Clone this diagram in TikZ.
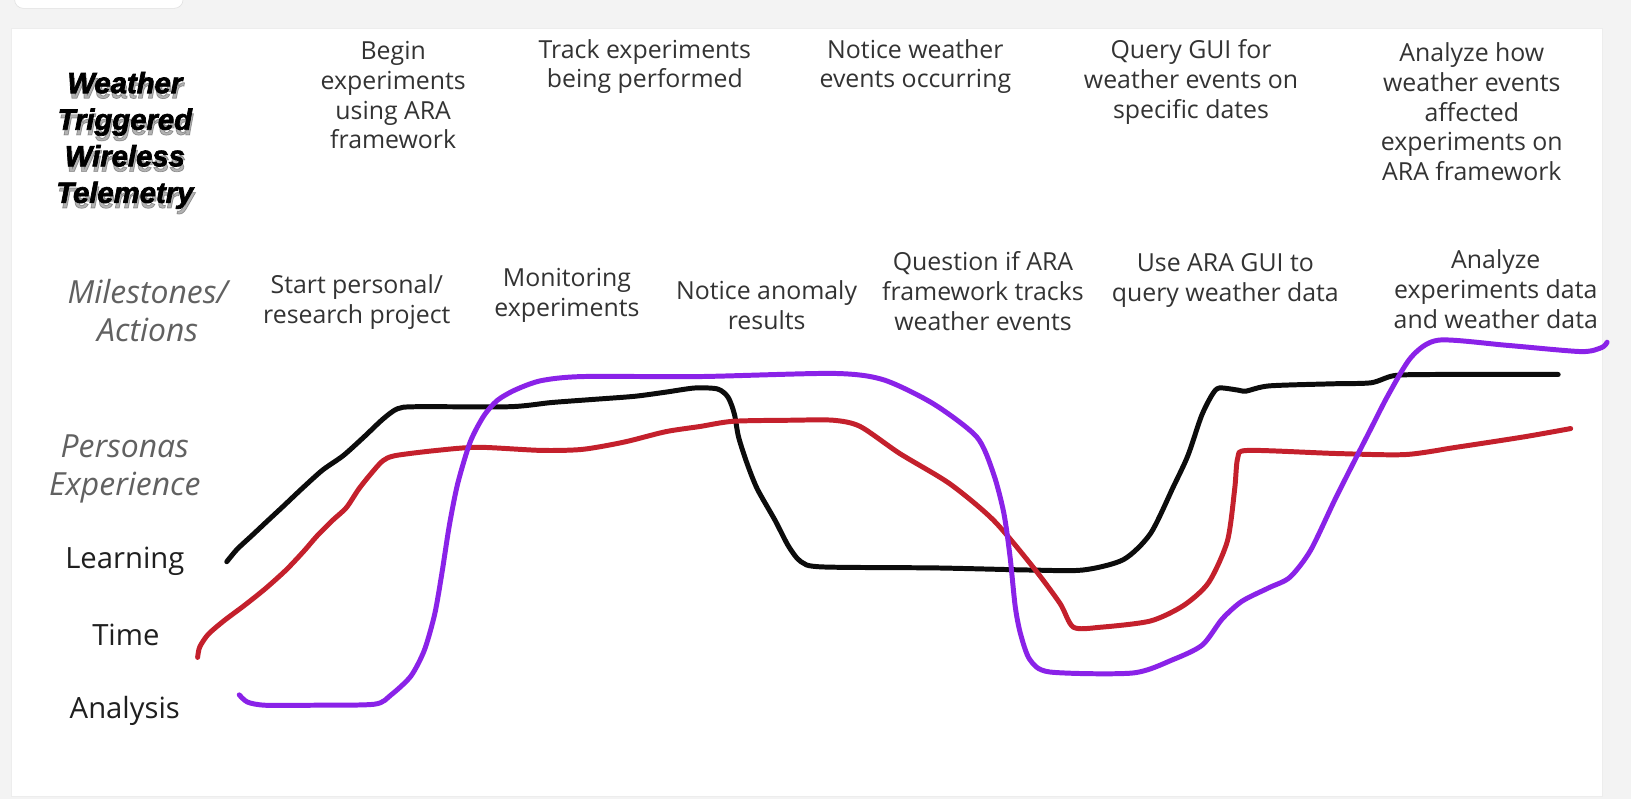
\documentclass[tikz,border=0pt]{standalone}
\usepackage{fontspec}
\setmainfont{Open Sans}
\newfontfamily\titlefont{Liberation Sans Bold Italic}[FakeBold=2.4]
\definecolor{learnblack}{RGB}{12,12,12}
\definecolor{timered}{RGB}{196,32,44}
\definecolor{analysispurple}{RGB}{138,34,232}
\definecolor{pagegray}{RGB}{243,243,243}

\begin{document}
\begin{tikzpicture}[x=0.25mm,y=-0.25mm,
  toptext/.style={align=center,text=black!80,inner sep=0pt,font=\fontsize{17}{20.4}\selectfont},
  rowtext/.style={align=center,text=black!88,inner sep=0pt,font=\fontsize{20}{26}\selectfont},
  rowital/.style={rowtext,text=black!62,font=\fontsize{21.8}{26}\selectfont\itshape},
  titletext/.style={align=center,inner sep=0pt,font=\titlefont\fontsize{20}{25}\selectfont},
  curve/.style={line width=3.4pt,line cap=round,line join=round}]
\useasboundingbox (0,0) rectangle (1568,768);

% page and panel
\fill[pagegray] (0,0) rectangle (1568,768);
\draw[black!12,fill=white,rounded corners=6pt] (14,-30) rectangle (176,8);
\draw[black!7,fill=white] (11,27) rectangle (1540,766);

% title with soft shadow
\node[titletext,text=black,opacity=0.3] (tshadow) at (121,140) {Weather\\Triggered\\Wireless\\Telemetry};
\node[titletext,text=black] (title) at (120,135) {Weather\\Triggered\\Wireless\\Telemetry};

% top row
\node[toptext] (begin) at (378,91.5) {Begin\\experiments\\using ARA\\framework};
\node[toptext] (track) at (620,64) {Track experiments\\being performed};
\node[toptext] (notice) at (880,64) {Notice weather\\events occurring};
\node[toptext] (query) at (1145,79) {Query GUI for\\weather events on\\specific dates};
\node[toptext] (analyzehow) at (1415,107.5) {Analyze how\\weather events\\affected\\experiments on\\ARA framework};

% milestones / actions
\node[rowital] (milestones) at (142,298.5) {Milestones/\\Actions};
\node[toptext] (startproj) at (343,290) {Start personal/\\research project};
\node[toptext] (monitor) at (545,284) {Monitoring\\experiments};
\node[toptext] (anomaly) at (737,293) {Notice anomaly\\results};
\node[toptext] (question) at (945,280) {Question if ARA\\framework tracks\\weather events};
\node[toptext] (usegui) at (1178,269.5) {Use ARA GUI to\\query weather data};
\node[toptext] (analyzedata) at (1438,278) {Analyze\\experiments data\\and weather data};

% persona rows
\node[rowital] (personas) at (120,450.5) {Personas\\Experience};
\node[rowtext] (learning) at (120,540) {Learning};
\node[rowtext] (time) at (121,610) {Time};
\node[rowtext] (analysis) at (120,683) {Analysis};

% learning
\draw[curve,learnblack] plot[smooth,tension=0.45] coordinates {(218,540) (228,528) (242,515) (258,500) (272,487) (290,470) (310,452) (330,438) (350,420) (368,403) (382,393) (400,391) (490,391) (530,387) (570,384) (610,381) (640,377) (668,373) (690,374) (700,382) (706,398) (710,420) (718,445) (728,470) (745,500) (758,525) (770,540) (790,545) (900,546) (990,548) (1041,548) (1080,538) (1106,513) (1128,468) (1142,438) (1155,400) (1165,380) (1172,373) (1190,375) (1198,376) (1220,371) (1280,369) (1318,368) (1341,361) (1383,360) (1498,360)};

% time
\draw[curve,timered] plot[smooth,tension=0.45] coordinates {(190,632) (192,622) (200,610) (215,597) (235,582) (255,566) (275,548) (292,530) (305,515) (320,500) (333,488) (345,470) (357,455) (368,443) (380,438) (420,433) (460,430) (520,433) (560,432) (600,425) (640,415) (673,410) (705,405) (760,404) (801,404) (827,410) (865,436) (913,465) (955,500) (993,545) (1019,580) (1032,603) (1058,603) (1106,597) (1138,582) (1162,560) (1180,520) (1187,470) (1190,440) (1200,433) (1285,436) (1351,437) (1400,430) (1465,420) (1510,412)};

% analysis
\draw[curve,analysispurple] plot[smooth,tension=0.45] coordinates {(230,668) (238,675) (255,678) (300,678) (360,677) (376,668) (395,650) (408,625) (418,590) (425,550) (432,505) (440,465) (452,425) (465,400) (478,385) (495,375) (520,366) (560,362) (673,362) (801,359) (849,365) (897,388) (939,420) (955,455) (965,493) (971,535) (976,583) (981,609) (990,634) (1009,646) (1089,647) (1128,634) (1156,620) (1175,595) (1194,578) (1220,565) (1240,555) (1260,529) (1285,477) (1318,412) (1335,379) (1357,343) (1383,327) (1449,332) (1520,338) (1540,334) (1545,329)};
\end{tikzpicture}
\end{document}
